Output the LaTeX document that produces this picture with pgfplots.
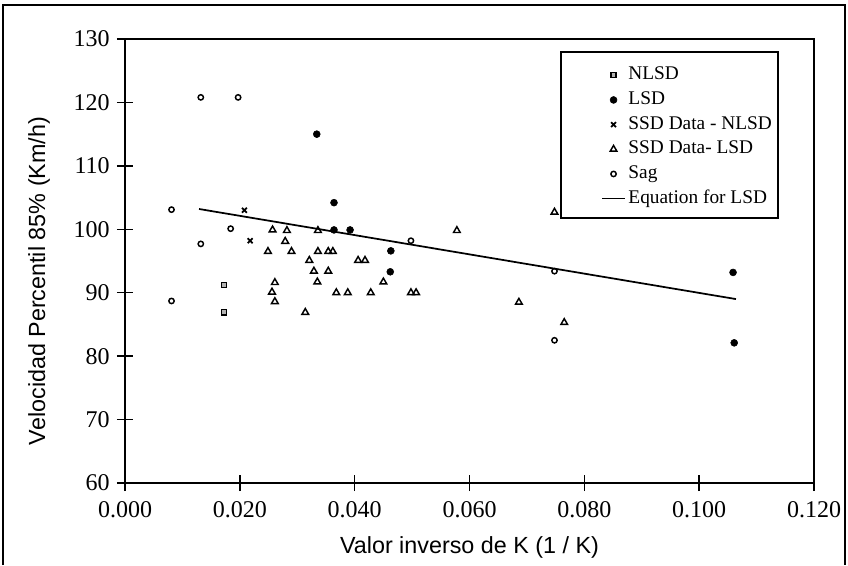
\documentclass[border=0pt]{standalone}
\usepackage{fontspec}
\setmainfont{Liberation Serif}
\newfontfamily\arialfont{Liberation Sans}
\usepackage{pgfplots}
\pgfplotsset{compat=1.18}
\begin{document}
\begin{tikzpicture}
\useasboundingbox (0,0) rectangle (636pt,-423.75pt);
\draw[line width=1.4pt] (2.25pt,-423.75pt) -- (2.25pt,-3.75pt) -- (633.75pt,-3.75pt) -- (633.75pt,-423.75pt);
\begin{axis}[
  at={(93.75pt,-362.25pt)}, anchor=south west,
  scale only axis, width=516.75pt, height=333pt,
  xmin=0, xmax=0.12, ymin=60, ymax=130,
  xtick={0,0.02,0.04,0.06,0.08,0.1,0.12},
  ytick={60,70,80,90,100,110,120,130},
  scaled x ticks=false,
  xticklabel style={/pgf/number format/.cd, fixed, fixed zerofill, precision=3},
  /pgf/number format/assume math mode=true,
  tick label style={font=\fontsize{18}{20}\selectfont, black},
  xticklabel shift=4pt, yticklabel shift=2pt,
  tick align=center, major tick length=12pt,
  xtick pos=left, ytick pos=left,
  axis line style={line width=1.1pt},
  tick style={line width=1.1pt, black},
  xlabel={Valor inverso de K (1 / K)},
  ylabel={Velocidad Percentil 85\% (Km/h)},
  xlabel style={font=\arialfont\fontsize{17.5}{20}\selectfont, at={(axis description cs:0.5,-0.158)}, anchor=base},
  ylabel style={font=\arialfont\fontsize{17.5}{20}\selectfont, at={(axis description cs:-0.1161,0.455)}, anchor=base, rotate=0},
  legend style={draw=none, fill=none, at={(rel axis cs:0.6909,0.9414)}, anchor=north west, inner sep=0pt,
    font=\fontsize{14.5}{16}\selectfont, nodes={inner ysep=1pt, text height=10pt, text depth=3pt}, row sep=3.5pt},
  legend cell align=left,
]
\addplot[only marks, mark=square*, mark size=1.9pt, mark options={fill=gray!60, draw=black, line width=0.9pt}]
  coordinates {(0.0172,91.2) (0.0172,86.9)};
\addlegendentry{NLSD}
\addplot[only marks, mark=*, mark size=2.6pt, mark options={fill=black, draw=black}]
  coordinates {(0.0334,115.0) (0.0364,104.2) (0.0364,99.9) (0.0392,99.9) (0.0463,96.6) (0.0462,93.3) (0.1059,93.2) (0.1061,82.1)};
\addlegendentry{LSD}
\addplot[only marks, mark=x, mark size=2.6pt, mark options={draw=black, line width=1.3pt}]
  coordinates {(0.0208,103.0) (0.0218,98.2)};
\addlegendentry{SSD Data - NLSD}
\addplot[only marks, mark=triangle, mark size=2.9pt, mark options={draw=black, line width=1.1pt}]
  coordinates {(0.0282,99.8) (0.0279,98.1) (0.0290,96.5) (0.0336,99.8) (0.0336,96.5) (0.0354,96.5) (0.0362,96.5)
   (0.0321,95.1) (0.0406,95.1) (0.0418,95.1) (0.0329,93.4) (0.0354,93.4) (0.0335,91.7) (0.0450,91.7)
   (0.0368,90.0) (0.0388,90.0) (0.0428,90.0) (0.0498,90.0) (0.0507,90.0) (0.0314,86.9) (0.0578,99.8)
   (0.0257,99.9) (0.0249,96.5) (0.0261,91.6) (0.0256,90.1) (0.0261,88.6)
   (0.0748,102.7) (0.0686,88.5) (0.0765,85.3)};
\addlegendentry{SSD Data- LSD}
\addplot[only marks, mark=o, mark size=2pt, mark options={draw=black, line width=1.1pt}]
  coordinates {(0.0132,120.8) (0.0197,120.8) (0.0081,103.1) (0.0184,100.1) (0.0132,97.7) (0.0081,88.7) (0.0498,98.2) (0.0748,93.4) (0.0748,82.5)};
\addlegendentry{Sag}
\addplot[black, line width=1.3pt, no marks]
  coordinates {(0.0129,103.2) (0.1064,89.0)};
\addlegendentry{Equation for LSD}
\draw[line width=1.2pt] (rel axis cs:0.633,0.971) rectangle (rel axis cs:0.948,0.597);
\end{axis}
\end{tikzpicture}
\end{document}
